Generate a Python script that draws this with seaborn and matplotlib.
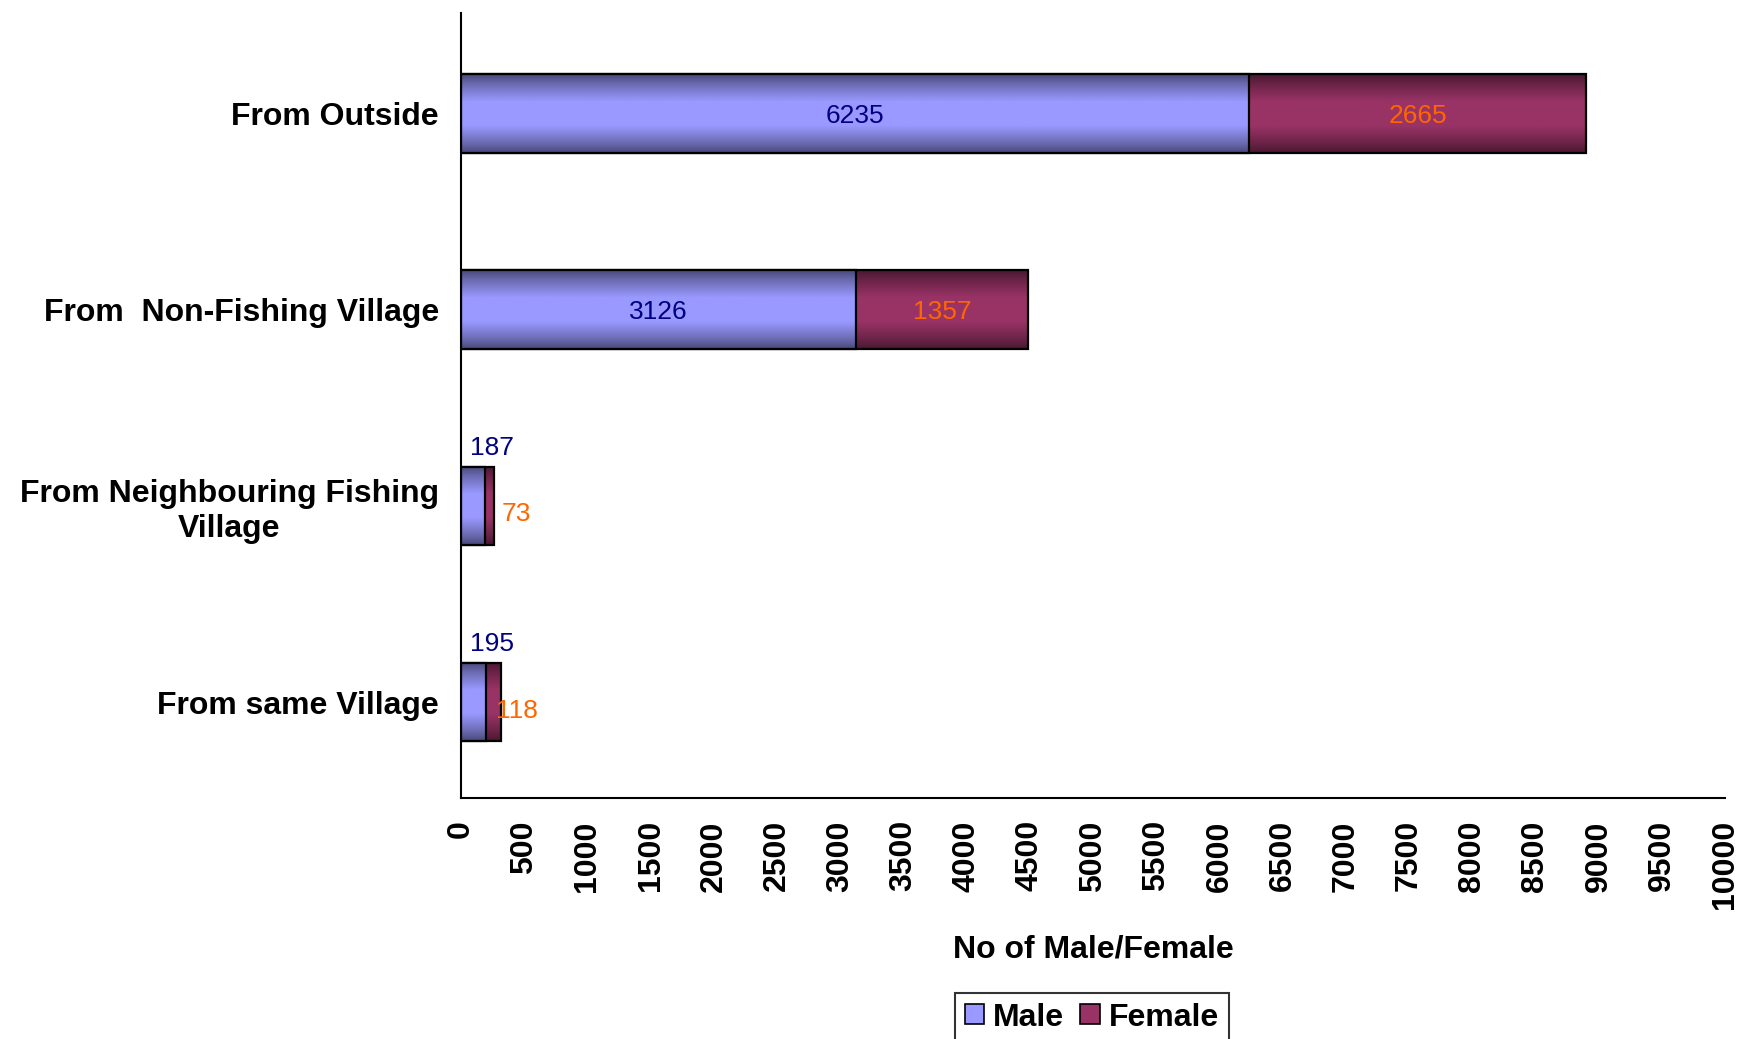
import numpy as np
import pandas as pd
import matplotlib
matplotlib.use("Agg")
import matplotlib.pyplot as plt
import seaborn as sns
from matplotlib.patches import Patch
from matplotlib.colors import to_rgb

# ---- data ----
categories = ["From Outside", "From  Non-Fishing Village",
              "From Neighbouring Fishing\nVillage", "From same Village"]
male = [6235, 3126, 187, 195]
female = [2665, 1357, 73, 118]
xticks = list(range(0, 10001, 500))
series_names = ["Male", "Female"]

sns.set_style("white")
plt.rcParams["font.family"] = ["Liberation Sans", "DejaVu Sans"]
plt.rcParams["text.color"] = "black"
plt.rcParams["axes.labelcolor"] = "black"
plt.rcParams["xtick.color"] = "black"
plt.rcParams["ytick.color"] = "black"

MALE_C = "#9999FF"
FEMALE_C = "#993366"
MALE_TXT = "#000080"
FEMALE_TXT = "#FF6600"

df = pd.DataFrame({"cat": categories, "Male": male, "Female": female})
df["Total"] = df["Male"] + df["Female"]

fig, ax = plt.subplots(figsize=(17.42, 10.39), dpi=100)
fig.subplots_adjust(left=461 / 1742, right=1725 / 1742,
                    top=1 - 13 / 1039, bottom=1 - 798 / 1039)

sns.barplot(data=df, y="cat", x="Total", color=FEMALE_C, orient="h",
            width=0.4, edgecolor="black", linewidth=1.6, saturation=1,
            errorbar=None, ax=ax)
sns.barplot(data=df, y="cat", x="Male", color=MALE_C, orient="h",
            width=0.4, edgecolor="black", linewidth=1.6, saturation=1,
            errorbar=None, ax=ax)

# gradient shading inside bars
N = 200
t = np.linspace(0, 1, N)
f = np.clip((1 - np.abs(2 * t - 1)) / 0.7, 0, 1)
shade = 0.45 + 0.55 * f ** 0.8
n = len(categories)
for i, p in enumerate(list(ax.patches)):
    base = np.array(to_rgb(p.get_facecolor()))
    x0, y0 = p.get_x(), p.get_y()
    w, h = p.get_width(), p.get_height()
    img = np.clip(base[None, None, :] * shade[:, None, None], 0, 1)
    layer = 0 if i < n else 1
    ax.imshow(img, extent=(x0, x0 + w, y0 + h, y0), aspect="auto",
              interpolation="bilinear", zorder=1.9 + layer * 0.2)
    p.set_facecolor("none")
    p.set_zorder(2.0 + layer * 0.2)

ax.set_xlim(0, 10000)
ax.set_ylim(n - 0.512, -0.512)
ax.set_aspect("auto")

# data labels
for i in range(n):
    m, fe = male[i], female[i]
    if m > 1000:
        ax.text(m / 2, i, str(m), ha="center", va="center_baseline",
                fontsize=19, color=MALE_TXT, zorder=5)
        ax.text(m + fe / 2, i, str(fe), ha="center", va="center_baseline",
                fontsize=19, color=FEMALE_TXT, zorder=5)
    else:
        ax.text(m * 0.5 + 150, i - 0.31, str(m), ha="center",
                va="center_baseline", fontsize=19, color=MALE_TXT, zorder=5)
        ax.text(440, i + 0.03, str(fe), ha="center", va="center_baseline",
                fontsize=19, color=FEMALE_TXT, zorder=5)

# axes styling
for s in ["top", "right"]:
    ax.spines[s].set_visible(False)
for s in ["left", "bottom"]:
    ax.spines[s].set_color("black")
    ax.spines[s].set_linewidth(1.5)
    ax.spines[s].set_zorder(3)

ax.set_xticks(xticks)
ax.set_xticklabels([str(v) for v in xticks], rotation=90, fontsize=23,
                   fontweight="bold", color="black")
ax.tick_params(axis="x", length=10, width=1.5, direction="out", pad=6,
               colors="black")
ax.tick_params(axis="y", length=0, pad=16)
ax.set_yticks(range(n))
ax.set_yticklabels(categories, fontsize=23, fontweight="bold",
                   multialignment="center", color="black")
ax.set_ylabel("")
ax.set_xlabel("No of Male/Female", fontsize=23, fontweight="bold",
              labelpad=18, color="black")
ax.grid(False)

handles = [Patch(facecolor=MALE_C, edgecolor="black", linewidth=1.2),
           Patch(facecolor=FEMALE_C, edgecolor="black", linewidth=1.2)]
leg = fig.legend(handles, series_names, loc="upper center",
                 bbox_to_anchor=(1092 / 1742, 1 - 993 / 1039), ncol=2,
                 frameon=True, fancybox=False, edgecolor="black",
                 prop={"size": 23, "weight": "bold"}, handlelength=0.6,
                 handleheight=0.6, handletextpad=0.3, columnspacing=0.5,
                 borderpad=0.3, borderaxespad=0)
leg.get_frame().set_linewidth(1.5)
for txt in leg.get_texts():
    txt.set_color("black")

fig.savefig("out.png", dpi=100)
